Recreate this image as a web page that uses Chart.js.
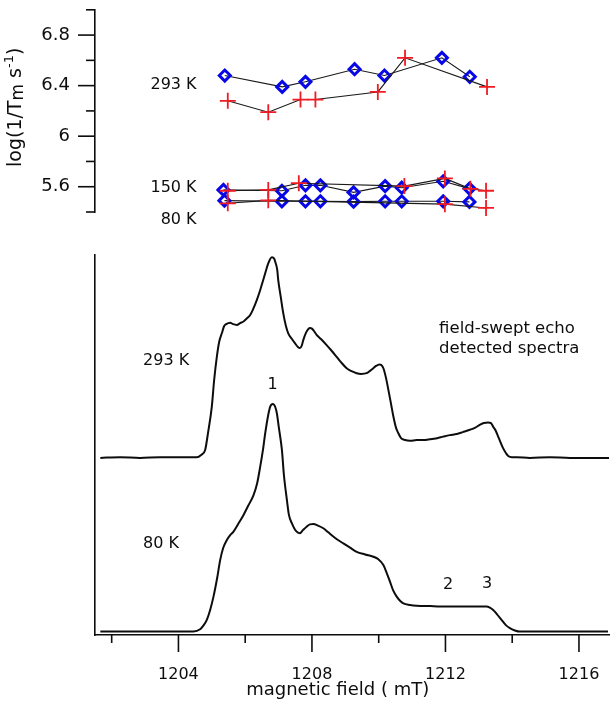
<!DOCTYPE html>
<html>
<head>
<meta charset="utf-8">
<script src="https://cdn.jsdelivr.net/npm/chart.js@4.4.1/dist/chart.umd.min.js"></script>
<style>
html,body{margin:0;padding:0;background:#fff;}
#wrap{position:relative;width:616px;height:707px;background:#fff;}
#wrap canvas{position:absolute;left:0;top:0;}
</style>
</head>
<body>
<div id="wrap">
<canvas id="bottom" width="616" height="707"></canvas>
<canvas id="top" width="616" height="707"></canvas>
</div>
<script>
// ---------- DATA ----------
// Top panel: log(1/Tm) vs magnetic field (mT)
const field293Blue = [1205.41, 1207.14, 1207.84, 1209.32, 1210.22, 1211.95, 1212.79];
const logTm293Blue = [6.48, 6.39, 6.43, 6.53, 6.48, 6.62, 6.47];
const field293Red  = [1205.50, 1206.72, 1207.69, 1208.14, 1210.02, 1210.84, 1213.31];
const logTm293Red  = [6.28, 6.19, 6.29, 6.29, 6.35, 6.62, 6.39];

const field150Blue = [1205.37, 1207.13, 1207.84, 1208.29, 1209.29, 1210.24, 1210.74, 1211.99, 1212.78];
const logTm150Blue = [5.575, 5.568, 5.611, 5.611, 5.555, 5.605, 5.592, 5.643, 5.585];
const field150Red  = [1205.50, 1206.72, 1207.64, 1210.82, 1212.04, 1212.81, 1213.28];
const logTm150Red  = [5.568, 5.575, 5.628, 5.605, 5.666, 5.583, 5.568];

const field80Blue  = [1205.40, 1207.13, 1207.84, 1208.29, 1209.29, 1210.24, 1210.74, 1211.99, 1212.78];
const logTm80Blue  = [5.49, 5.485, 5.485, 5.485, 5.482, 5.485, 5.485, 5.485, 5.48];
const field80Red   = [1205.50, 1206.72, 1212.04, 1213.28];
const logTm80Red   = [5.469, 5.492, 5.462, 5.432];

// Bottom panel: field-swept echo detected spectra (arbitrary intensity units)
const field293Spec = [1201.66,1202.25,1202.85,1203.45,1204.05,1204.55,1204.68,1204.80,1204.89,1205.00,
  1205.07,1205.15,1205.22,1205.30,1205.37,1205.43,1205.55,1205.64,1205.75,1205.85,
  1205.95,1206.06,1206.15,1206.24,1206.35,1206.45,1206.54,1206.63,1206.69,1206.80,
  1206.87,1206.90,1206.96,1206.99,1207.07,1207.14,1207.22,1207.29,1207.40,1207.49,
  1207.58,1207.64,1207.70,1207.74,1207.82,1207.89,1207.94,1207.99,1208.06,1208.14,
  1208.27,1208.44,1208.57,1208.74,1208.87,1209.04,1209.17,1209.34,1209.47,1209.64,
  1209.74,1209.84,1209.92,1210.02,1210.07,1210.14,1210.22,1210.29,1210.37,1210.44,
  1210.52,1210.59,1210.67,1210.79,1210.94,1211.14,1211.33,1211.54,1211.75,1211.93,
  1212.13,1212.34,1212.52,1212.73,1212.88,1213.03,1213.15,1213.28,1213.36,1213.43,
  1213.51,1213.58,1213.66,1213.73,1213.81,1213.88,1213.99,1214.13,1214.53,1215.13,
  1215.73,1216.33,1216.90];
const int293Spec = [46.6,46.8,46.6,46.8,46.8,46.8,47.4,48.7,53.4,60.1,
  67.1,73.2,77.1,79.4,81.3,81.8,82.2,81.8,81.6,82.1,
  82.5,83.4,84.2,85.8,88.2,90.8,93.4,96.1,97.8,99.4,
  99.0,98.2,96.1,93.4,88.7,84.7,81.3,79.4,77.9,76.8,
  75.8,75.5,76.3,77.6,79.5,80.5,80.8,80.7,80.0,79.0,
  77.9,76.3,75.0,73.2,71.8,70.2,69.5,68.9,68.7,68.9,
  69.5,70.2,70.8,71.2,71.1,70.2,67.6,64.5,60.8,57.5,
  54.5,53.1,51.8,51.3,51.1,51.3,51.3,51.5,51.8,52.2,
  52.6,52.9,53.4,54.0,54.5,55.3,55.8,55.9,55.8,54.8,
  53.7,52.2,50.5,49.1,47.9,47.1,46.8,46.8,46.6,46.8,
  46.6,46.6,46.6];

const field80Spec = [1201.66,1202.55,1203.45,1204.45,1204.65,1204.74,1204.85,1204.95,1205.05,1205.16,
  1205.25,1205.34,1205.45,1205.55,1205.65,1205.79,1205.95,1206.09,1206.25,1206.36,
  1206.45,1206.54,1206.60,1206.69,1206.75,1206.83,1206.90,1206.95,1207.01,1207.10,
  1207.16,1207.25,1207.31,1207.40,1207.52,1207.64,1207.73,1207.84,1207.94,1208.04,
  1208.18,1208.34,1208.48,1208.64,1208.78,1208.94,1209.14,1209.34,1209.59,1209.84,
  1209.98,1210.14,1210.25,1210.34,1210.43,1210.54,1210.64,1210.74,1210.94,1211.14,
  1211.54,1211.84,1212.19,1212.53,1212.88,1213.23,1213.33,1213.43,1213.54,1213.68,
  1213.81,1213.93,1214.08,1214.23,1214.83,1215.73,1216.33,1216.87];
const int80Spec = [0.9,0.9,0.9,0.9,1.5,2.4,4.0,6.6,10.1,15.0,
  19.7,22.9,25.0,26.3,27.2,29.2,31.6,34.0,36.8,40.0,
  44.3,49.2,53.1,57.9,60.1,60.8,60.0,58.3,54.5,48.7,
  42.1,35.5,31.6,29.4,27.4,26.8,27.6,28.5,29.1,29.2,
  28.8,28.1,27.1,25.9,25.0,24.1,23.0,21.9,21.2,20.6,
  20.0,18.4,16.1,14.0,11.8,10.1,9.0,8.3,7.9,7.7,
  7.6,7.5,7.5,7.5,7.5,7.5,7.2,6.6,5.5,4.0,
  2.6,1.8,1.2,0.9,0.9,0.9,0.9,0.9];

// Tick labels
const yTickLabelsTop = ['5.6', '6', '6.4', '6.8'];
const xTickLabels = ['1204', '1208', '1212', '1216'];

// Text annotations (text + position in data coordinates)
const topTexts = [
  {text: '293 K', x: 1204.56, y: 6.373, align: 'right'},
  {text: '150 K', x: 1204.56, y: 5.555, align: 'right'},
  {text: '80 K',  x: 1204.56, y: 5.303, align: 'right'}
];
const bottomTexts = [
  {text: '293 K', x: 1202.94, y: 71.05, align: 'left'},
  {text: '80 K',  x: 1202.94, y: 22.82, align: 'left'},
  {text: '1', x: 1206.82, y: 64.66, align: 'center'},
  {text: '2', x: 1212.08, y: 12.03, align: 'center'},
  {text: '3', x: 1213.25, y: 12.29, align: 'center'},
  {text: 'field-swept echo', x: 1211.81, y: 79.55, align: 'left', size: 16.5},
  {text: 'detected spectra', x: 1211.81, y: 74.13, align: 'left', size: 16.5}
];

// ---------- STYLE ----------
const FONT = "'DejaVu Sans', sans-serif";
const INK = '#0d0d0d';
const RED = '#f01c24';
const BLUE = '#0808e6';
const X_MIN = 1201.5, X_MAX = 1216.9;
Chart.defaults.font.family = FONT;
Chart.defaults.color = INK;

const toXY = (xs, ys) => xs.map((x, i) => ({x: x, y: ys[i]}));

function tickMarksPlugin(specs) {
  return {
    id: 'tickMarks',
    afterDraw(chart) {
      const ctx = chart.ctx;
      ctx.save();
      ctx.strokeStyle = INK;
      ctx.lineWidth = 1.6;
      for (const spec of specs) {
        const scale = chart.scales[spec.id];
        for (const t of scale.ticks) {
          const v = Math.round(t.value * 100) / 100;
          const major = spec.majors.includes(v);
          const len = major ? spec.major : spec.minor;
          const p = scale.getPixelForValue(t.value);
          ctx.beginPath();
          if (scale.isHorizontal()) {
            ctx.moveTo(p, scale.top); ctx.lineTo(p, scale.top + len);
          } else {
            ctx.moveTo(scale.right - len, p); ctx.lineTo(scale.right, p);
          }
          ctx.stroke();
        }
      }
      ctx.restore();
    }
  };
}

function textPlugin(items) {
  return {
    id: 'texts',
    afterDraw(chart) {
      const ctx = chart.ctx, xs = chart.scales.x, ys = chart.scales.y;
      ctx.save();
      ctx.fillStyle = INK;
      ctx.textBaseline = 'alphabetic';
      for (const it of items) {
        ctx.font = (it.size || 16) + 'px ' + FONT;
        ctx.textAlign = it.align;
        ctx.fillText(it.text, xs.getPixelForValue(it.x), ys.getPixelForValue(it.y));
      }
      ctx.restore();
    }
  };
}

// rotated y-axis title with subscript / superscript
const yTitleSegments = [
  {text: 'log(1/T', size: 19, dy: 0},
  {text: 'm', size: 17, dy: 2},
  {text: ' s', size: 19, dy: 0},
  {text: '-1', size: 13, dy: -8},
  {text: ')', size: 19, dy: 0}
];
const yTitlePlugin = {
  id: 'yTitle',
  afterDraw(chart) {
    const ctx = chart.ctx;
    ctx.save();
    ctx.fillStyle = INK;
    ctx.textBaseline = 'alphabetic';
    ctx.textAlign = 'left';
    ctx.translate(21, 167);
    ctx.rotate(-Math.PI / 2);
    let cx = 0;
    for (const s of yTitleSegments) {
      ctx.font = s.size + 'px ' + FONT;
      ctx.fillText(s.text, cx, s.dy);
      cx += ctx.measureText(s.text).width;
    }
    ctx.restore();
  }
};

function redSet(label, xs, ys) {
  return {label, data: toXY(xs, ys), borderColor: '#1a1a1a', borderWidth: 1.1,
    pointStyle: 'cross', pointRadius: 8, pointBorderWidth: 1.8,
    pointBorderColor: RED, pointBackgroundColor: RED, clip: false, tension: 0};
}
function blueSet(label, xs, ys) {
  return {label, data: toXY(xs, ys), borderColor: '#1a1a1a', borderWidth: 1.1,
    pointStyle: 'rectRot', pointRadius: 5.5, pointBorderWidth: 3,
    pointBorderColor: BLUE, pointBackgroundColor: 'rgba(0,0,0,0)', clip: false, tension: 0};
}

// ---------- TOP CHART ----------
new Chart(document.getElementById('top'), {
  type: 'line',
  data: {datasets: [
    redSet('293 K red', field293Red, logTm293Red),
    redSet('150 K red', field150Red, logTm150Red),
    redSet('80 K red', field80Red, logTm80Red),
    blueSet('293 K blue', field293Blue, logTm293Blue),
    blueSet('150 K blue', field150Blue, logTm150Blue),
    blueSet('80 K blue', field80Blue, logTm80Blue)
  ]},
  options: {
    responsive: false, animation: false, devicePixelRatio: 1,
    layout: {padding: {left: 0, top: 0, right: 7, bottom: 495}},
    plugins: {legend: {display: false}, tooltip: {enabled: false}},
    scales: {
      x: {type: 'linear', min: X_MIN, max: X_MAX, display: false},
      y: {
        type: 'linear', position: 'left', min: 5.4, max: 7.0,
        afterFit(s) { s.width = 95; s.paddingTop = 0; s.paddingBottom = 0; },
        border: {display: true, color: INK, width: 1.6},
        grid: {drawOnChartArea: false, drawTicks: true, tickLength: 16, color: 'rgba(0,0,0,0)', tickColor: 'rgba(0,0,0,0)'},
        ticks: {
          stepSize: 0.2, padding: 9, color: INK, font: {size: 18}, autoSkip: false,
          callback: v => { const s = String(Math.round(v * 10) / 10); return yTickLabelsTop.includes(s) ? s : ''; }
        }
      }
    }
  },
  plugins: [
    tickMarksPlugin([{id: 'y', majors: yTickLabelsTop.map(Number), major: 17, minor: 9}]),
    textPlugin(topTexts),
    yTitlePlugin
  ]
});

// ---------- BOTTOM CHART ----------
const specLine = {borderColor: '#0d0d0d', borderWidth: 2, pointRadius: 0, cubicInterpolationMode: 'monotone', fill: false};
new Chart(document.getElementById('bottom'), {
  type: 'line',
  data: {datasets: [
    Object.assign({label: '293 K spectrum', data: toXY(field293Spec, int293Spec)}, specLine),
    Object.assign({label: '80 K spectrum', data: toXY(field80Spec, int80Spec)}, specLine)
  ]},
  options: {
    responsive: false, animation: false, devicePixelRatio: 1,
    layout: {padding: {left: 0, top: 255, right: 7, bottom: 0}},
    plugins: {legend: {display: false}, tooltip: {enabled: false}},
    scales: {
      x: {
        type: 'linear', position: 'bottom', min: X_MIN, max: X_MAX,
        afterFit(s) { s.height = 72; s.paddingLeft = 0; s.paddingRight = 0; },
        border: {display: true, color: INK, width: 1.6},
        grid: {drawOnChartArea: false, drawTicks: true, tickLength: 17, color: 'rgba(0,0,0,0)', tickColor: 'rgba(0,0,0,0)'},
        ticks: {
          stepSize: 2, includeBounds: false, autoSkip: false, maxRotation: 0, padding: 13,
          color: INK, font: {size: 16},
          callback: v => { const s = String(Math.round(v)); return xTickLabels.includes(s) ? s : ''; }
        },
        title: {display: true, text: 'magnetic field ( mT)' + '\u00a0'.repeat(5), color: INK,
          font: {size: 18}, padding: {top: 0, bottom: 6}}
      },
      y: {
        type: 'linear', position: 'left', min: 0, max: 100,
        afterFit(s) { s.width = 95; s.paddingTop = 0; s.paddingBottom = 0; },
        border: {display: true, color: INK, width: 1.6},
        grid: {display: false},
        ticks: {display: false}
      }
    }
  },
  plugins: [
    tickMarksPlugin([{id: 'x', majors: xTickLabels.map(Number), major: 17, minor: 8}]),
    textPlugin(bottomTexts)
  ]
});
</script>
</body>
</html>
